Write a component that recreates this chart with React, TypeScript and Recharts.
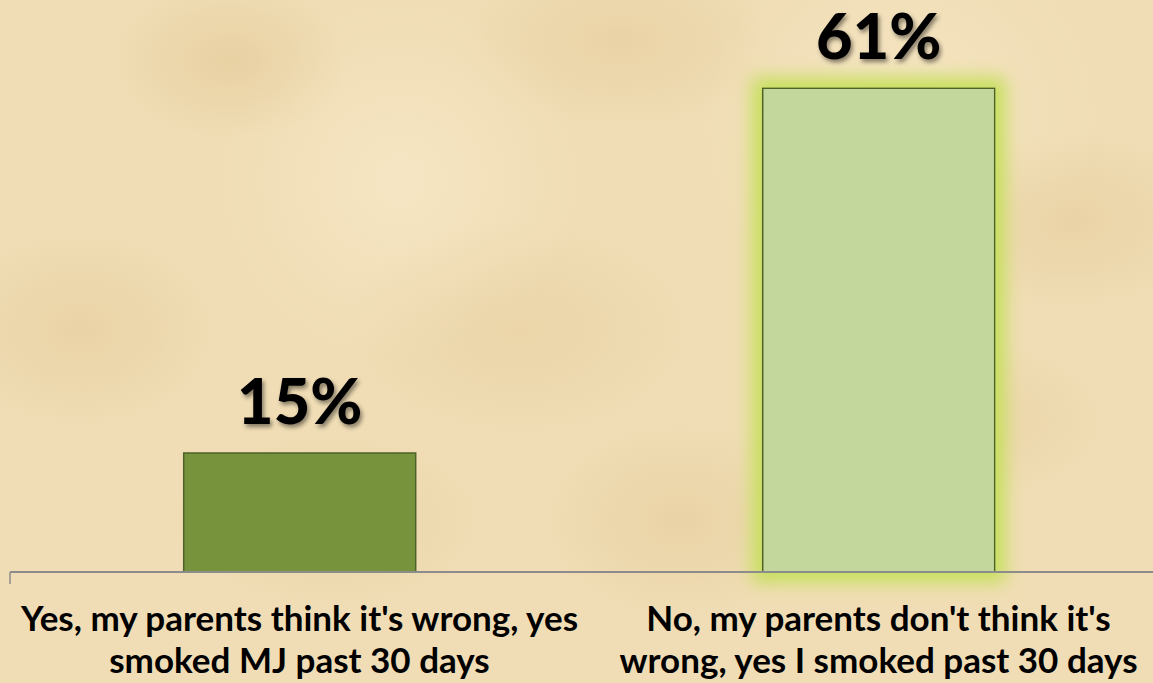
import React from 'react';
import { BarChart, Bar, XAxis, YAxis, LabelList, Cell, Rectangle } from 'recharts';

const CATEGORIES = [
  "Yes, my parents think it's wrong, yes|smoked MJ past 30 days",
  "No, my parents don't think it's|wrong, yes I smoked past 30 days",
];
const VALUES = [15, 61];
const BAR_FILLS = ['#77933c', '#c3d69b'];
const EDGE_TICKS = [0, 1, 2];

const data = CATEGORIES.map((name, i) => ({ name, value: VALUES[i] }));

const FONT = 'Lato, "Open Sans", sans-serif';

const parchment = [
  'radial-gradient(ellipse 120px 80px at 230px 60px, rgba(214,180,120,0.3), transparent)',
  'radial-gradient(ellipse 160px 90px at 620px 40px, rgba(214,180,120,0.25), transparent)',
  'radial-gradient(ellipse 140px 100px at 80px 330px, rgba(214,180,120,0.25), transparent)',
  'radial-gradient(ellipse 180px 110px at 520px 330px, rgba(214,180,120,0.2), transparent)',
  'radial-gradient(ellipse 150px 90px at 1070px 220px, rgba(214,180,120,0.25), transparent)',
  'radial-gradient(ellipse 140px 100px at 680px 520px, rgba(214,180,120,0.25), transparent)',
  'radial-gradient(ellipse 130px 80px at 980px 420px, rgba(214,180,120,0.2), transparent)',
  'radial-gradient(ellipse 160px 90px at 330px 520px, rgba(214,180,120,0.2), transparent)',
  'radial-gradient(circle at 400px 180px, rgba(255,245,220,0.35), transparent 180px)',
  'radial-gradient(circle at 900px 120px, rgba(255,245,220,0.3), transparent 200px)',
  '#f0ddb5',
].join(', ');

function GlowBar(props) {
  const { index, x, y, width, height, fill } = props;
  if (index === 1) {
    return (
      <g>
        <defs>
          <filter id="barGlow" x="-30%" y="-15%" width="160%" height="130%">
            <feMorphology in="SourceAlpha" operator="dilate" radius="10" result="fat" />
            <feGaussianBlur in="fat" stdDeviation="9" result="blur" />
            <feFlood floodColor="#c6e05c" floodOpacity="1" />
            <feComposite in2="blur" operator="in" result="glow" />
            <feMerge>
              <feMergeNode in="glow" />
              <feMergeNode in="SourceGraphic" />
            </feMerge>
          </filter>
        </defs>
        <Rectangle x={x} y={y} width={width} height={height} fill={fill} stroke="#4f6228" strokeWidth={1.5} filter="url(#barGlow)" />
      </g>
    );
  }
  return <Rectangle x={x} y={y} width={width} height={height} fill={fill} stroke="#4f6228" strokeWidth={1.5} />;
}

function CategoryTick({ x, y, payload }) {
  const lines = String(payload.value).split('|');
  return (
    <g>
      {lines.map((line, i) => (
        <text
          key={i}
          x={x}
          y={y + 58 + i * 42}
          textAnchor="middle"
          style={{ fontFamily: FONT, fontWeight: 700, fontSize: 35, fill: '#000' }}
        >
          {line}
        </text>
      ))}
    </g>
  );
}

function ValueLabel({ x, y, width, value }) {
  return (
    <text
      x={x + width / 2}
      y={y - 29}
      textAnchor="middle"
      style={{
        fontFamily: FONT,
        fontWeight: 900,
        fontSize: 63,
        fill: '#000',
        filter: 'drop-shadow(2px 3px 2px rgba(0,0,0,0.45))',
      }}
    >
      {`${value}%`}
    </text>
  );
}

function EmptyTick() {
  return <g />;
}

export default function App() {
  return (
    <div
      style={{
        position: 'fixed',
        top: 0,
        left: 0,
        width: 1153,
        height: 683,
        overflow: 'hidden',
        background: parchment,
      }}
    >
      <BarChart
        width={1170}
        height={683}
        data={data}
        margin={{ top: 17, right: 2, bottom: 0, left: 10 }}
        barCategoryGap="30%"
      >
        <XAxis
          xAxisId="b_cat"
          dataKey="name"
          height={110}
          axisLine={false}
          tickLine={false}
          tickSize={0}
          tickMargin={0}
          interval={0}
          tick={<CategoryTick />}
        />
        <XAxis
          xAxisId="a_edges"
          type="number"
          domain={[0, 2]}
          ticks={EDGE_TICKS}
          height={1}
          tick={<EmptyTick />}
          tickSize={12}
          axisLine={{ stroke: '#8c8c8c', strokeWidth: 2 }}
          tickLine={{ stroke: '#8c8c8c', strokeWidth: 1.5 }}
        />
        <YAxis hide domain={[0, 70]} />
        <Bar dataKey="value" xAxisId="b_cat" isAnimationActive={false} shape={<GlowBar />}>
          {data.map((d, i) => (
            <Cell key={d.name} fill={BAR_FILLS[i]} />
          ))}
          <LabelList dataKey="value" content={<ValueLabel />} />
        </Bar>
      </BarChart>
    </div>
  );
}
